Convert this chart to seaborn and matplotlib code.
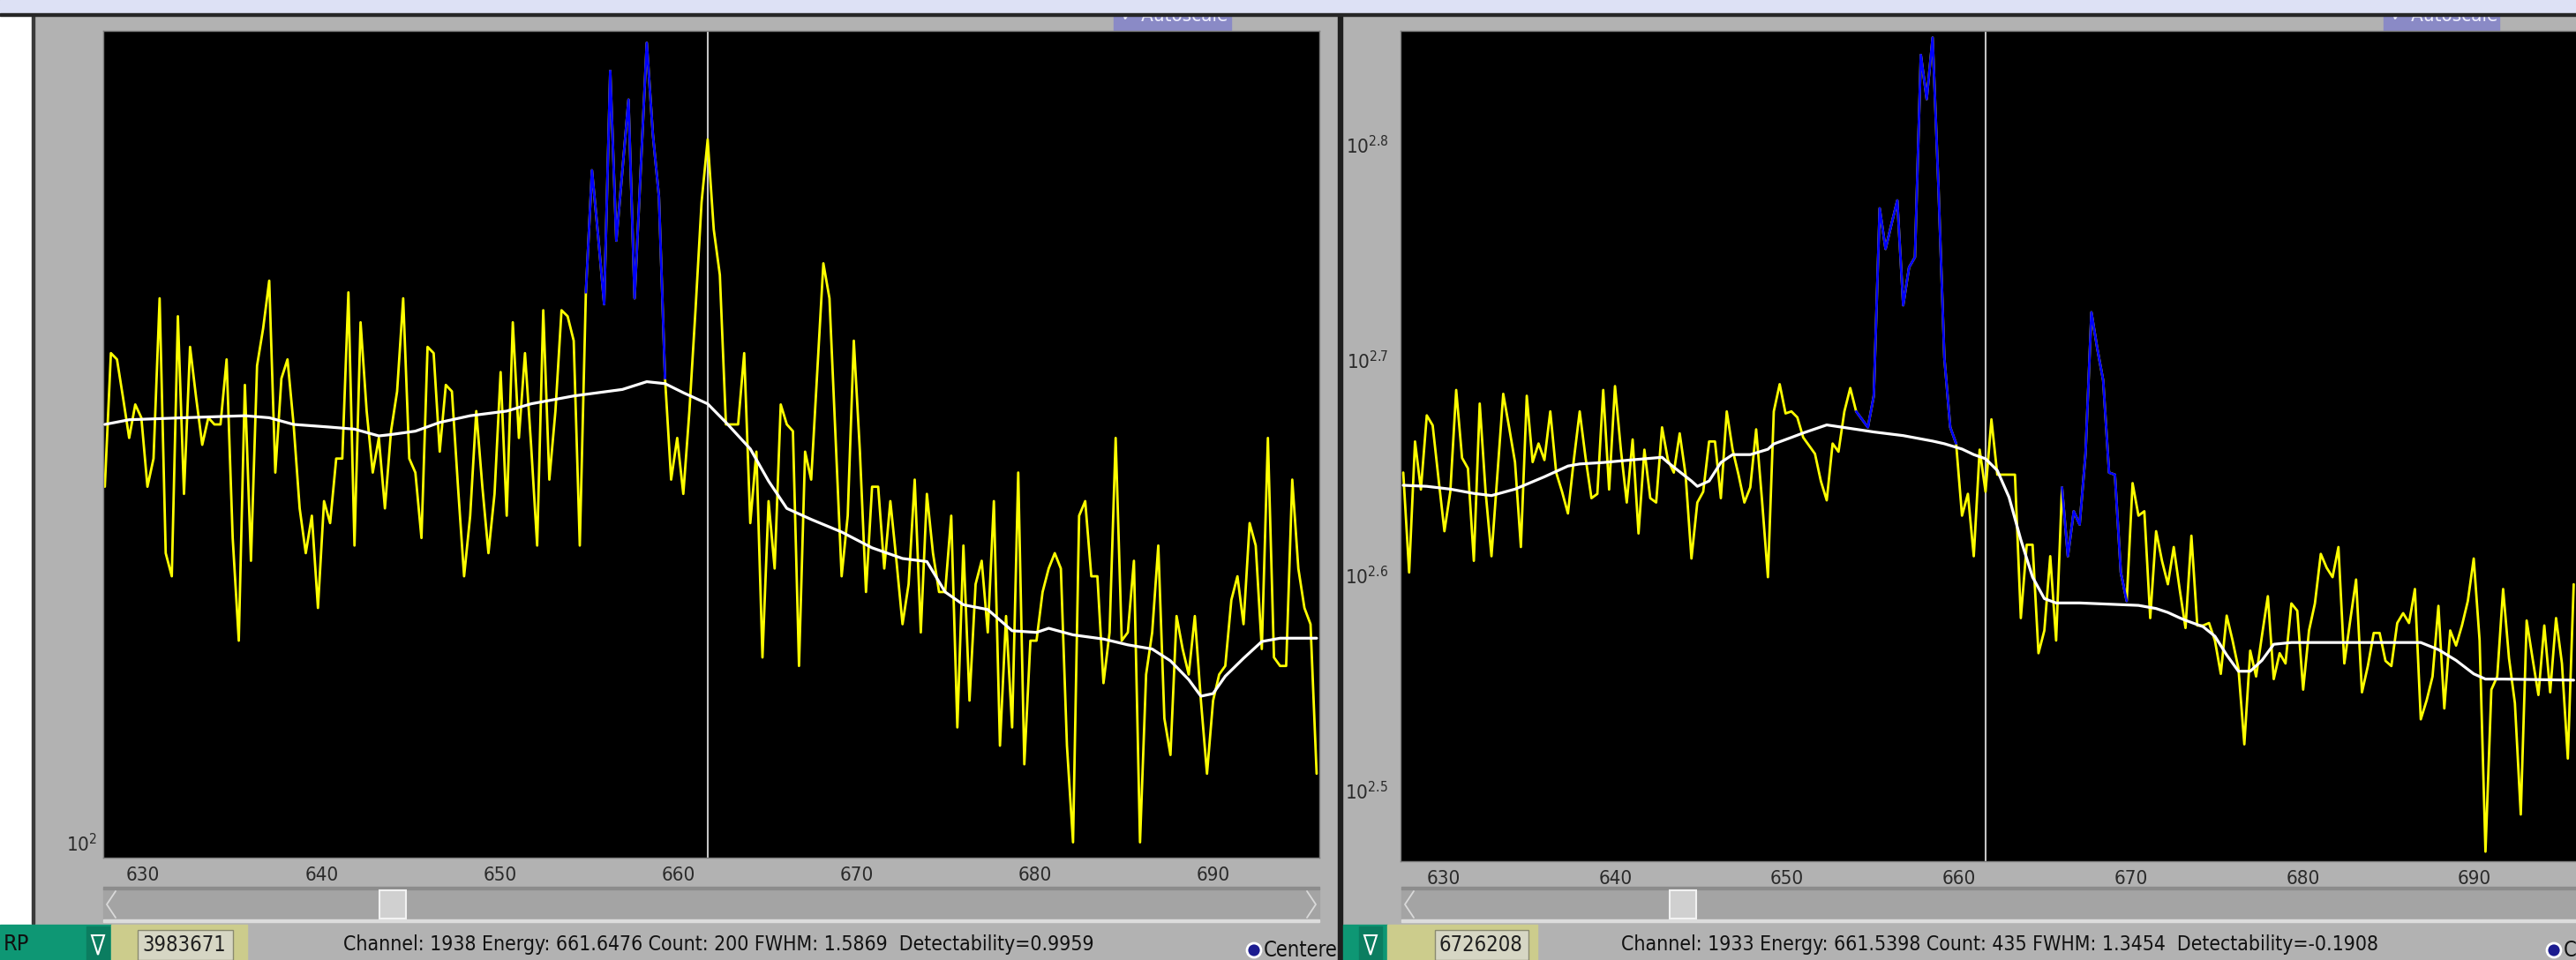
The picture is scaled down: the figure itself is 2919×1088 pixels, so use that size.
import numpy as np
import pandas as pd
import matplotlib
matplotlib.use("Agg")
import matplotlib.pyplot as plt
import matplotlib.ticker as mtick
from matplotlib.patches import Rectangle, Circle, Polygon
import seaborn as sns

W, H = 2919, 1088

# ---- left spectrum: counts per channel, channels 1839..2038 ----
left_first_ch = 1839
left_gain = 0.341407          # keV / channel (661.6476 keV at ch 1938)
left_counts = [142, 162, 161, 155, 149, 154, 152, 142, 146, 171,
               133, 130, 168, 141, 163, 155, 148, 152, 151, 151,
               161, 135, 122, 157, 132, 160, 166, 174, 144, 158,
               161, 151, 139, 133, 138, 126, 140, 137, 146, 146,
               172, 134, 167, 153, 144, 149, 139, 150, 156, 171,
               146, 144, 135, 163, 162, 147, 157, 156, 142, 130,
               138, 153, 142, 133, 141, 159, 138, 167, 149, 162,
               148, 134, 169, 143, 153, 169, 168, 164, 134, 172,
               194, 182, 170, 214, 181, 194, 208, 171, 194, 220,
               201, 189, 158, 143, 149, 141, 153, 169, 188, 200,
               183, 175, 151, 151, 151, 162, 137, 147, 120, 140,
               131, 154, 151, 150, 119, 147, 143, 159, 177, 171,
               149, 130, 138, 164, 147, 128, 142, 142, 131, 140,
               132, 124, 129, 143, 123, 141, 133, 128, 128, 138,
               112, 134, 115, 129, 132, 123, 140, 110, 125, 112,
               144, 108, 122, 122, 128, 131, 133, 131, 110, 100,
               138, 140, 130, 130, 117, 123, 149, 122, 123, 132,
               100, 118, 123, 134, 113, 109, 125, 121, 118, 125,
               115, 107, 115, 118, 119, 127, 130, 124, 137, 134,
               121, 149, 120, 119, 119, 143, 131, 126, 124, 107]
left_rois = [(1918, 1931)]
left_bg_ch = [1839, 1843, 1852, 1862, 1866, 1870, 1876, 1880, 1884, 1886,
              1890, 1894, 1899, 1905, 1909, 1916, 1924, 1928, 1931, 1934,
              1938, 1941, 1945, 1948, 1951, 1955, 1960, 1965, 1970, 1974,
              1977, 1980, 1984, 1988, 1992, 1994, 1998, 2003, 2007, 2011,
              2014, 2017, 2019, 2021, 2023, 2026, 2029, 2032, 2038]
left_bg = [151, 151.7, 152, 152.3, 152, 151, 150.6, 150.3, 149.3, 149.5,
           150, 151.3, 152.3, 153, 154.1, 155.3, 156.3, 157.5, 157.2, 155.8,
           154.1, 151.3, 147.4, 142.8, 139.0, 137.5, 135.8, 133.7, 132.3, 131.9,
           128, 126.4, 125.8, 123.2, 123, 123.5, 122.7, 122.2, 121.5, 121,
           119.6, 117.4, 115.5, 115.8, 117.8, 119.9, 121.9, 122.3, 122.3]
left_cursor_ch = 1938

# ---- right spectrum: channels 1834..2033 ----
right_first_ch = 1834
right_gain = 0.342235         # keV / channel (661.5398 keV at ch 1933)
right_counts = [444, 399, 459, 436, 472, 467, 441, 417, 435, 485,
                451, 446, 404, 478, 435, 406, 443, 483, 466, 449,
                410, 482, 449, 458, 450, 474, 444, 435, 425, 450,
                474, 451, 432, 434, 485, 436, 487, 455, 430, 460,
                416, 455, 432, 430, 466, 450, 444, 463, 443, 405,
                430, 435, 459, 459, 432, 474, 455, 443, 430, 437,
                465, 431, 397, 474, 488, 473, 474, 471, 461, 457,
                453, 440, 431, 458, 454, 474, 486, 474, 470, 466,
                482, 589, 564, 579, 594, 531, 553, 559, 694, 662,
                707, 602, 502, 466, 458, 424, 434, 406, 455, 435,
                470, 443, 443, 443, 443, 380, 411, 411, 366, 375,
                406, 371, 437, 406, 426, 420, 453, 527, 507, 490,
                444, 443, 399, 387, 439, 424, 426, 380, 417, 404,
                394, 410, 392, 376, 415, 377, 377, 378, 371, 358,
                381, 371, 360, 332, 367, 357, 373, 389, 356, 366,
                362, 386, 383, 352, 375, 386, 407, 401, 397, 410,
                362, 379, 396, 351, 361, 374, 374, 363, 361, 378,
                382, 378, 392, 341, 348, 357, 385, 345, 375, 369,
                377, 387, 405, 371, 296, 352, 357, 392, 364, 347,
                308, 379, 364, 350, 377, 351, 380, 362, 327, 394]
right_rois = [(1911, 1928), (1946, 1957)]
right_bg_ch = [1834, 1838, 1842, 1846, 1849, 1853, 1858, 1862, 1864, 1868,
               1873, 1878, 1879, 1883, 1884, 1886, 1888, 1890, 1893, 1896,
               1897, 1900, 1902, 1906, 1909, 1914, 1919, 1924, 1926, 1929,
               1931, 1933, 1935, 1937, 1939, 1941, 1943, 1945, 1949, 1954,
               1959, 1962, 1964, 1966, 1967, 1970, 1972, 1974, 1976, 1978,
               1980, 1982, 1985, 1995, 2007, 2010, 2013, 2016, 2018, 2021,
               2033]
right_bg = [438, 437.5, 436.2, 434.2, 433.2, 436.2, 442, 447.1, 448.1, 448.8,
            450.1, 451.3, 448.8, 440, 437.5, 440, 448.8, 452.6, 452.6, 455.2,
            457.8, 461, 463.2, 467.2, 465.9, 463.7, 461.9, 459.2, 457.9, 455.3,
            452.6, 450.6, 445, 432.4, 413.2, 397, 388, 386.2, 386.2, 385.7,
            385.2, 383.9, 382.3, 380.1, 379.1, 376.5, 372.7, 365.3, 359, 359,
            363.2, 369.5, 370.2, 370.2, 370.2, 367.4, 363.2, 358, 356, 356,
            355.6]
right_cursor_ch = 1933

x_ticks = [630, 640, 650, 660, 670, 680, 690]
left_yticks = [100]
left_ylabels = ["2"]
right_yticks = [10 ** 2.5, 10 ** 2.6, 10 ** 2.7, 10 ** 2.8]
right_ylabels = ["2.5", "2.6", "2.7", "2.8"]

status_left = "Channel: 1938 Energy: 661.6476 Count: 200 FWHM: 1.5869  Detectability=0.9959"
status_right = "Channel: 1933 Energy: 661.5398 Count: 435 FWHM: 1.3454  Detectability=-0.1908"

GRAY = "#b2b2b2"
TXT = "#2a2a2a"

sns.set_theme(style="dark")
plt.rcParams["font.family"] = ["DejaVu Sans"]
plt.rcParams["font.stretch"] = "condensed"


def frac(x0, y0, x1, y1):
    return [x0 / W, 1 - y1 / H, (x1 - x0) / W, (y1 - y0) / H]


fig = plt.figure(figsize=(W / 100, H / 100), dpi=100, facecolor=GRAY)

# window chrome drawn in pixel coordinates
bg = fig.add_axes([0, 0, 1, 1])
bg.set_xlim(0, W)
bg.set_ylim(H, 0)
bg.axis("off")
bg.add_patch(Rectangle((0, 0), W, H, color=GRAY, zorder=0))
bg.add_patch(Rectangle((0, 17), 37, 1030, color="white", zorder=1))
bg.add_patch(Rectangle((36, 17), 3, 1030, color="#3a3a3a", zorder=2))
bg.add_patch(Rectangle((1516, 17), 5, H, color="#1e1e1e", zorder=2))

# autoscale tabs (top half hidden under title band)
for tx0, tx1 in [(1262, 1395), (2701, 2832)]:
    bg.add_patch(Rectangle((tx0, 8), tx1 - tx0, 27, color="#8a8ac6", zorder=2))
    bg.text(tx0 + 8, 18, "\u2713 Autoscale", fontsize=16, color="#f0f0ff",
            va="center", ha="left", zorder=3)

bg.add_patch(Rectangle((0, 0), W, 16, color="#dde1f5", zorder=5))
bg.add_patch(Rectangle((0, 15), W, 3, color="#262626", zorder=5))


def scrollbar(x0, x1, thumb_x):
    bg.add_patch(Rectangle((x0, 1007), x1 - x0, 36, color="#a4a4a4", zorder=2))
    bg.add_patch(Rectangle((x0, 1005), x1 - x0, 3, color="#8c8c8c", zorder=3))
    bg.add_patch(Rectangle((x0, 1042), x1 - x0, 3, color="#dcdcdc", zorder=3))
    bg.add_patch(Rectangle((thumb_x, 1009), 30, 32, facecolor="#d0d0d0",
                           edgecolor="#f2f2f2", lw=1.5, zorder=4))
    bg.plot([x0 + 14, x0 + 4, x0 + 14], [1010, 1025, 1040], color="#dadada", lw=1.3, zorder=4)
    bg.plot([x1 - 14, x1 - 4, x1 - 14], [1010, 1025, 1040], color="#dadada", lw=1.3, zorder=4)


scrollbar(117, 1495, 430)
scrollbar(1588, 2935, 1892)


def status_bar(gx0, gx1, drop_x, kx1, field_x0, field_x1, number, label, status, sx, rx, prefix):
    bg.add_patch(Rectangle((gx0, 1048), gx1 - gx0, 40, color="#0e9774", zorder=2))
    bg.add_patch(Rectangle((drop_x, 1050), 26, 38, color="#0b7d60", zorder=3))
    bg.add_patch(Polygon([[drop_x + 6, 1060], [drop_x + 20, 1060], [drop_x + 13, 1082]],
                         closed=True, facecolor="none", edgecolor="white", lw=1.5, zorder=4))
    if prefix:
        bg.text(gx0 + 4, 1070, prefix, fontsize=18, color="#101010", va="center", ha="left", zorder=4)
    bg.add_patch(Rectangle((gx1, 1048), kx1 - gx1, 40, color="#cccc8c", zorder=2))
    bg.add_patch(Rectangle((field_x0, 1054), field_x1 - field_x0, 34, facecolor="#d6d6c4",
                           edgecolor="#8a8a70", lw=1, zorder=3))
    bg.text(field_x0 + 5, 1071, number, fontsize=17, color="#202020", va="center", ha="left", zorder=4)
    bg.text(sx, 1070, status, fontsize=16.5, color="#111111", va="center", ha="center", zorder=4)
    bg.add_patch(Circle((rx, 1077), 8, facecolor="#1c1c90", edgecolor="white", lw=2, zorder=4))
    if label:
        bg.text(rx + 11, 1077, label, fontsize=17, color="#111111", va="center", ha="left", zorder=4)


status_bar(0, 126, 98, 280, 156, 264, "3983671", "Centere", status_left, 814, 1421, "RP")
status_bar(1522, 1572, 1540, 1742, 1626, 1732, "6726208", "C", status_right, 2266, 2894, "")


def draw_spectrum(ax, first_ch, gain, counts, rois, bg_ch, bg_cnt, cursor_ch,
                  xlim, ylim, yticks, ylabels, ypad):
    df = pd.DataFrame({"channel": first_ch + np.arange(len(counts)), "counts": counts})
    df["energy"] = df["channel"] * gain
    base = pd.DataFrame({"channel": bg_ch, "counts": bg_cnt})
    base["energy"] = base["channel"] * gain

    ax.set_facecolor("black")
    ax.axvline(cursor_ch * gain, color="#c4c4c4", lw=1.5, zorder=1)
    sns.lineplot(data=df, x="energy", y="counts", ax=ax, color="#ffff00", linewidth=2.0,
                 estimator=None, sort=False, legend=False, zorder=2)
    for a, b in rois:
        roi = df[(df["channel"] >= a) & (df["channel"] <= b)]
        sns.lineplot(data=roi, x="energy", y="counts", ax=ax, color="#0000ff", linewidth=2.0,
                     estimator=None, sort=False, legend=False, zorder=3)
    sns.lineplot(data=base, x="energy", y="counts", ax=ax, color="white", linewidth=2.3,
                 estimator=None, sort=False, legend=False, zorder=4)

    ax.set_yscale("log")
    ax.set_xlim(*xlim)
    ax.set_ylim(*ylim)
    ax.set_xlabel("")
    ax.set_ylabel("")
    ax.set_xticks(x_ticks)
    ax.set_xticklabels([str(t) for t in x_ticks])
    ax.yaxis.set_major_locator(mtick.FixedLocator(yticks))
    ax.yaxis.set_minor_locator(mtick.NullLocator())
    ax.yaxis.set_major_formatter(mtick.FixedFormatter(
        [r"$\mathregular{10^{%s}}$" % s for s in ylabels]))
    ax.tick_params(axis="x", length=0, pad=7, labelsize=16, labelcolor=TXT)
    ax.tick_params(axis="y", length=0, pad=ypad, labelsize=16, labelcolor=TXT)
    ax.grid(False)
    for sp in ax.spines.values():
        sp.set_color("#7a7a7a")
        sp.set_linewidth(1.0)


ax_l = fig.add_axes(frac(117, 35, 1495, 972))
draw_spectrum(ax_l, left_first_ch, left_gain, left_counts, left_rois, left_bg_ch, left_bg,
              left_cursor_ch, (627.76, 695.94), (98.5, 222.6), left_yticks, left_ylabels, 5)

ax_r = fig.add_axes(frac(1587, 35, 2921, 976))
draw_spectrum(ax_r, right_first_ch, right_gain, right_counts, right_rois, right_bg_ch, right_bg,
              right_cursor_ch, (627.5, 696.0), (293.0, 712.1), right_yticks, right_ylabels, 10)

fig.savefig("out.png", dpi=100, facecolor=GRAY)
